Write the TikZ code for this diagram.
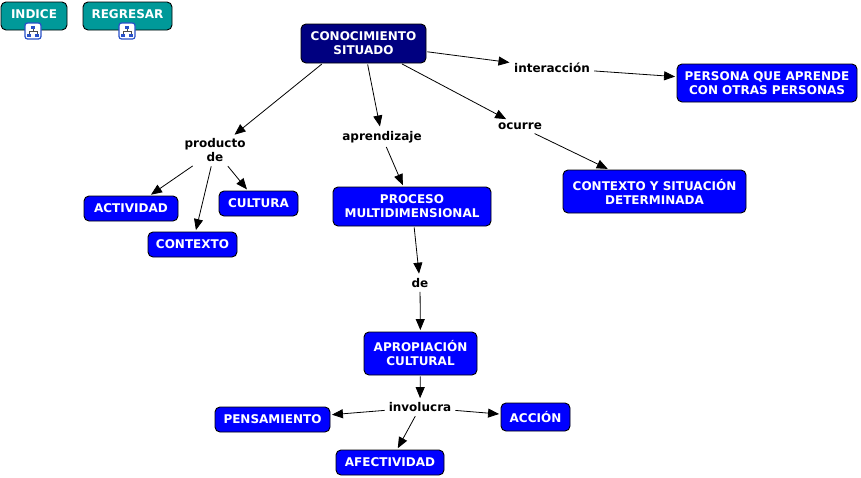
\documentclass[tikz,border=0pt]{standalone}
\usepackage{fontspec}
\setmainfont{DejaVu Sans}
\usetikzlibrary{arrows.meta}
\definecolor{navybox}{RGB}{0,0,128}
\definecolor{bluebox}{RGB}{0,0,255}
\definecolor{tealbox}{RGB}{0,153,153}
\definecolor{iconblue}{RGB}{40,80,200}
\tikzset{
	concept/.style={draw=black,line width=0.9pt,fill=bluebox,text=white,rounded corners=5pt,
		align=center,font=\fontsize{12}{14}\selectfont\bfseries,inner sep=2pt},
	topconcept/.style={concept,fill=navybox},
	button/.style={concept,fill=tealbox,text depth=4pt},
	linkword/.style={align=center,font=\fontsize{12}{14}\selectfont\bfseries,inner sep=3pt},
	link/.style={line width=0.8pt,-{Triangle[length=11pt,width=9pt]},shorten >=1.5pt,shorten <=1pt}
}
\begin{document}
\begin{tikzpicture}[x=1pt,y=-1pt]
	\useasboundingbox[fill=white] (0,0) rectangle (861,477);
	% botones
	\node[button,minimum width=66,minimum height=28] (indice) at (34,16) {INDICE};
	\node[button,minimum width=89,minimum height=28] (regresar) at (127.5,16) {REGRESAR};
	\foreach \ix in {33,127}{
		\filldraw[draw=iconblue,fill=white,line width=1.2pt,rounded corners=2.5pt] (\ix-8,23) rectangle (\ix+8,39);
		\draw[black!70,line width=0.8pt] (\ix,28) -- (\ix,31) (\ix-4,31) -- (\ix+4,31) (\ix-4,31) -- (\ix-4,34) (\ix+4,31) -- (\ix+4,34);
		\fill[iconblue] (\ix-2,25.5) rectangle (\ix+2,28.5);
		\fill[iconblue] (\ix-6,33.5) rectangle (\ix-2,36.5);
		\fill[iconblue] (\ix+2,33.5) rectangle (\ix+6,36.5);
	}
	% conceptos
	\node[topconcept,minimum width=125,minimum height=39] (cs) at (363.5,43.5) {CONOCIMIENTO\\SITUADO};
	\node[concept,minimum width=180,minimum height=38] (per) at (767,83) {PERSONA QUE APRENDE\\CON OTRAS PERSONAS};
	\node[concept,minimum width=183,minimum height=43] (ctx) at (654.5,191.5) {CONTEXTO Y SITUACIÓN\\DETERMINADA};
	\node[concept,minimum width=158,minimum height=39] (proc) at (412,206.5) {PROCESO\\MULTIDIMENSIONAL};
	\node[concept,minimum width=94,minimum height=25] (act) at (131,208.5) {ACTIVIDAD};
	\node[concept,minimum width=79,minimum height=25] (cul) at (258.5,203.5) {CULTURA};
	\node[concept,minimum width=89,minimum height=25] (cnt) at (192.5,244.5) {CONTEXTO};
	\node[concept,minimum width=113,minimum height=43] (apro) at (420.5,353.5) {APROPIACIÓN\\CULTURAL};
	\node[concept,minimum width=115,minimum height=25] (pen) at (272.5,419.5) {PENSAMIENTO};
	\node[concept,minimum width=69,minimum height=28] (acc) at (535.5,417) {ACCIÓN};
	\node[concept,minimum width=108,minimum height=25] (afe) at (390,462.5) {AFECTIVIDAD};
	% palabras de enlace
	\node[linkword] (int) at (552,68) {interacción};
	\node[linkword] (prod) at (215,150.5) {producto\\de};
	\node[linkword] (apr) at (382,137) {aprendizaje};
	\node[linkword] (ocu) at (520,126.5) {ocurre};
	\node[linkword] (de) at (420,283) {de};
	\node[linkword] (inv) at (420,407.5) {involucra};
	% enlaces
	\draw[link] (cs) -- (int);
	\draw[link] (int) -- (per);
	\draw[link] (cs.206) -- (prod);
	\draw[link] (cs) -- (apr);
	\draw[link] (cs) -- (ocu);
	\draw[link] (ocu) -- (ctx);
	\draw[link] (prod) -- (act);
	\draw[link] (prod) -- (cnt);
	\draw[link] (prod) -- (cul);
	\draw[link] (apr) -- (proc);
	\draw[link] (proc) -- (de);
	\draw[link] (de) -- (apro);
	\draw[link] (apro) -- (inv);
	\draw[link] (inv) -- (pen);
	\draw[link] (inv) -- (acc);
	\draw[link] (inv) -- (afe);
\end{tikzpicture}
\end{document}
